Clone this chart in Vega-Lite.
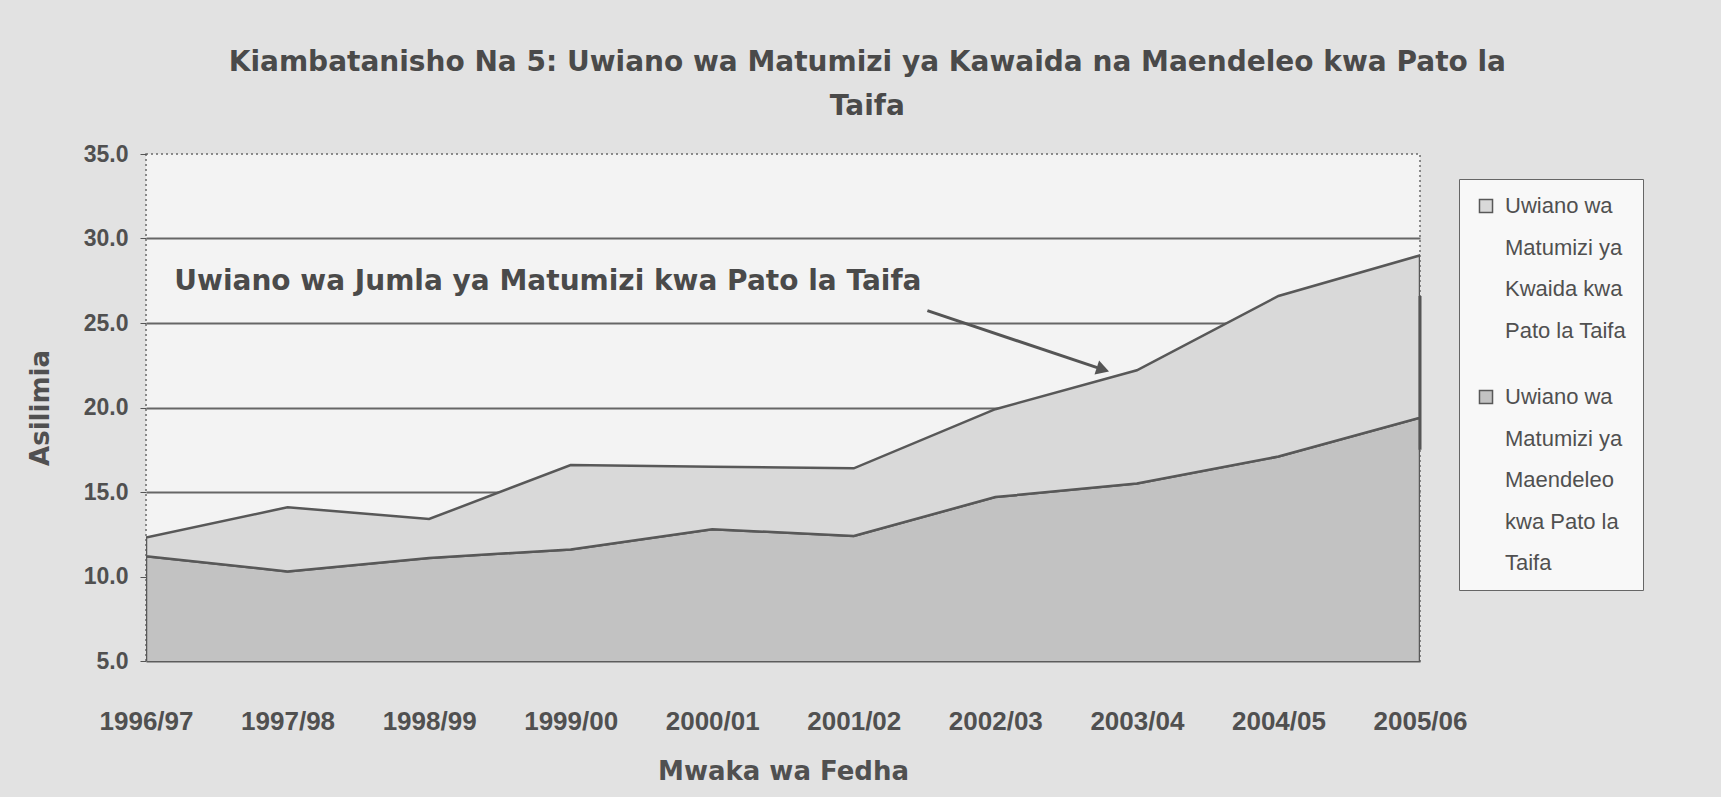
{
  "$schema": "https://vega.github.io/schema/vega-lite/v6.json",
  "width": 1274,
  "height": 507,
  "autosize": {"type": "none"},
  "padding": {"left": 146, "top": 154, "right": 301, "bottom": 136},
  "background": "#e2e2e2",
  "title": {
    "text": ["Kiambatanisho Na 5: Uwiano wa Matumizi ya Kawaida na Maendeleo kwa Pato la", "Taifa"],
    "anchor": "middle",
    "frame": "bounds",
    "dx": 32,
    "font": "DejaVu Sans",
    "fontSize": 28,
    "fontWeight": "bold",
    "color": "#4a4a4a",
    "lineHeight": 44,
    "offset": 22
  },
  "config": {
    "font": "Liberation Sans",
    "view": {"stroke": "#6a6a6a", "strokeDash": [2, 3], "strokeWidth": 1.5, "fill": "#f3f3f3"},
    "style": {"guide-label": {"lineHeight": 41.5}}
  },
  "data": {
    "values": [
      {"year": 1996, "series": "Uwiano wa Matumizi ya Maendeleo kwa Pato la Taifa", "value": 11.2},
      {"year": 1997, "series": "Uwiano wa Matumizi ya Maendeleo kwa Pato la Taifa", "value": 10.3},
      {"year": 1998, "series": "Uwiano wa Matumizi ya Maendeleo kwa Pato la Taifa", "value": 11.1},
      {"year": 1999, "series": "Uwiano wa Matumizi ya Maendeleo kwa Pato la Taifa", "value": 11.6},
      {"year": 2000, "series": "Uwiano wa Matumizi ya Maendeleo kwa Pato la Taifa", "value": 12.8},
      {"year": 2001, "series": "Uwiano wa Matumizi ya Maendeleo kwa Pato la Taifa", "value": 12.4},
      {"year": 2002, "series": "Uwiano wa Matumizi ya Maendeleo kwa Pato la Taifa", "value": 14.7},
      {"year": 2003, "series": "Uwiano wa Matumizi ya Maendeleo kwa Pato la Taifa", "value": 15.5},
      {"year": 2004, "series": "Uwiano wa Matumizi ya Maendeleo kwa Pato la Taifa", "value": 17.1},
      {"year": 2005, "series": "Uwiano wa Matumizi ya Maendeleo kwa Pato la Taifa", "value": 19.4},
      {"year": 1996, "series": "Uwiano wa Matumizi ya Kwaida kwa Pato la Taifa", "value": 1.1},
      {"year": 1997, "series": "Uwiano wa Matumizi ya Kwaida kwa Pato la Taifa", "value": 3.8},
      {"year": 1998, "series": "Uwiano wa Matumizi ya Kwaida kwa Pato la Taifa", "value": 2.3},
      {"year": 1999, "series": "Uwiano wa Matumizi ya Kwaida kwa Pato la Taifa", "value": 5.0},
      {"year": 2000, "series": "Uwiano wa Matumizi ya Kwaida kwa Pato la Taifa", "value": 3.7},
      {"year": 2001, "series": "Uwiano wa Matumizi ya Kwaida kwa Pato la Taifa", "value": 4.0},
      {"year": 2002, "series": "Uwiano wa Matumizi ya Kwaida kwa Pato la Taifa", "value": 5.2},
      {"year": 2003, "series": "Uwiano wa Matumizi ya Kwaida kwa Pato la Taifa", "value": 6.7},
      {"year": 2004, "series": "Uwiano wa Matumizi ya Kwaida kwa Pato la Taifa", "value": 9.5},
      {"year": 2005, "series": "Uwiano wa Matumizi ya Kwaida kwa Pato la Taifa", "value": 9.6}
    ]
  },
  "transform": [
    {"stack": "value", "groupby": ["year"], "sort": [{"field": "series", "order": "descending"}], "as": ["v0", "v1"]}
  ],
  "layer": [
    {
      "mark": {"type": "area", "opacity": 1, "clip": true, "stroke": "#585858", "strokeWidth": 2.5},
      "encoding": {
        "x": {
          "field": "year",
          "type": "quantitative",
          "scale": {"domain": [1996, 2005], "nice": false, "zero": false},
          "axis": {
            "values": [1996, 1997, 1998, 1999, 2000, 2001, 2002, 2003, 2004, 2005],
            "labelExpr": "datum.value + '/' + slice('' + (datum.value + 1), 2)",
            "grid": false,
            "ticks": false,
            "domainColor": "#5c5c5c",
            "domainWidth": 2,
            "labelFontSize": 26,
            "labelFontWeight": "bold",
            "labelColor": "#505050",
            "labelPadding": 47,
            "labelFlush": false,
            "labelOverlap": false,
            "title": "Mwaka wa Fedha",
            "titleFont": "DejaVu Sans",
            "titleFontSize": 26,
            "titleFontWeight": "bold",
            "titleColor": "#505050",
            "titlePadding": 24
          }
        },
        "y": {
          "field": "v1",
          "type": "quantitative",
          "scale": {"domain": [5, 35], "nice": false, "zero": false},
          "axis": {
            "values": [5, 10, 15, 20, 25, 30, 35],
            "format": ".1f",
            "domain": false,
            "grid": true,
            "gridColor": {"condition": {"test": "datum.value == 35 || datum.value == 5", "value": "transparent"}, "value": "#666666"},
            "gridWidth": 2,
            "tickColor": "#555555",
            "tickSize": 6,
            "labelFontSize": 23,
            "labelFontWeight": "bold",
            "labelColor": "#505050",
            "labelPadding": 12,
            "title": "Asilimia",
            "titleFont": "DejaVu Sans",
            "titleFontSize": 26,
            "titleFontWeight": "bold",
            "titleColor": "#505050",
            "titlePadding": 30
          }
        },
        "y2": {"field": "v0"},
        "color": {
          "field": "series",
          "type": "nominal",
          "scale": {
            "domain": ["Uwiano wa Matumizi ya Kwaida kwa Pato la Taifa", "Uwiano wa Matumizi ya Maendeleo kwa Pato la Taifa"],
            "range": ["#d9d9d9", "#c2c2c2"]
          },
          "legend": {
            "orient": "none",
            "legendX": 1313,
            "legendY": 25,
            "title": null,
            "padding": 16,
            "fillColor": "#f8f8f8",
            "strokeColor": "#666666",
            "symbolType": "square",
            "symbolSize": 170,
            "symbolStrokeWidth": 1.5,
            "labelFontSize": 22,
            "labelColor": "#505050",
            "labelLimit": 300,
            "labelBaseline": "middle",
            "labelOffset": 8,
            "rowPadding": 44,
            "labelExpr": "datum.label == 'Uwiano wa Matumizi ya Kwaida kwa Pato la Taifa' ? ['Uwiano wa', 'Matumizi ya', 'Kwaida kwa', 'Pato la Taifa'] : ['Uwiano wa', 'Matumizi ya', 'Maendeleo', 'kwa Pato la', 'Taifa']"
          }
        }
      }
    },
    {
      "data": {"values": [{"x": 1996.2, "y": 27.4, "label": "Uwiano wa Jumla ya Matumizi kwa Pato la Taifa"}]},
      "mark": {"type": "text", "align": "left", "baseline": "middle", "font": "DejaVu Sans", "fontSize": 28, "fontWeight": "bold", "color": "#4a4a4a"},
      "encoding": {
        "x": {"field": "x", "type": "quantitative"},
        "y": {"field": "y", "type": "quantitative"},
        "text": {"field": "label"}
      }
    },
    {
      "data": {"values": [{"x": 2001.52, "y": 25.73, "x2": 2002.72, "y2": 22.36}, {"x": 2005, "y": 17.5, "x2": 2005, "y2": 26.6}]},
      "mark": {"type": "rule", "color": "#555555", "strokeWidth": 3},
      "encoding": {
        "x": {"field": "x", "type": "quantitative"},
        "y": {"field": "y", "type": "quantitative"},
        "x2": {"field": "x2"},
        "y2": {"field": "y2"}
      }
    },
    {
      "data": {"values": [{"x": 2002.76, "y": 22.25}]},
      "mark": {"type": "point", "shape": "triangle-right", "filled": true, "opacity": 1, "color": "#555555", "size": 220, "angle": 18},
      "encoding": {
        "x": {"field": "x", "type": "quantitative"},
        "y": {"field": "y", "type": "quantitative"}
      }
    }
  ]
}
